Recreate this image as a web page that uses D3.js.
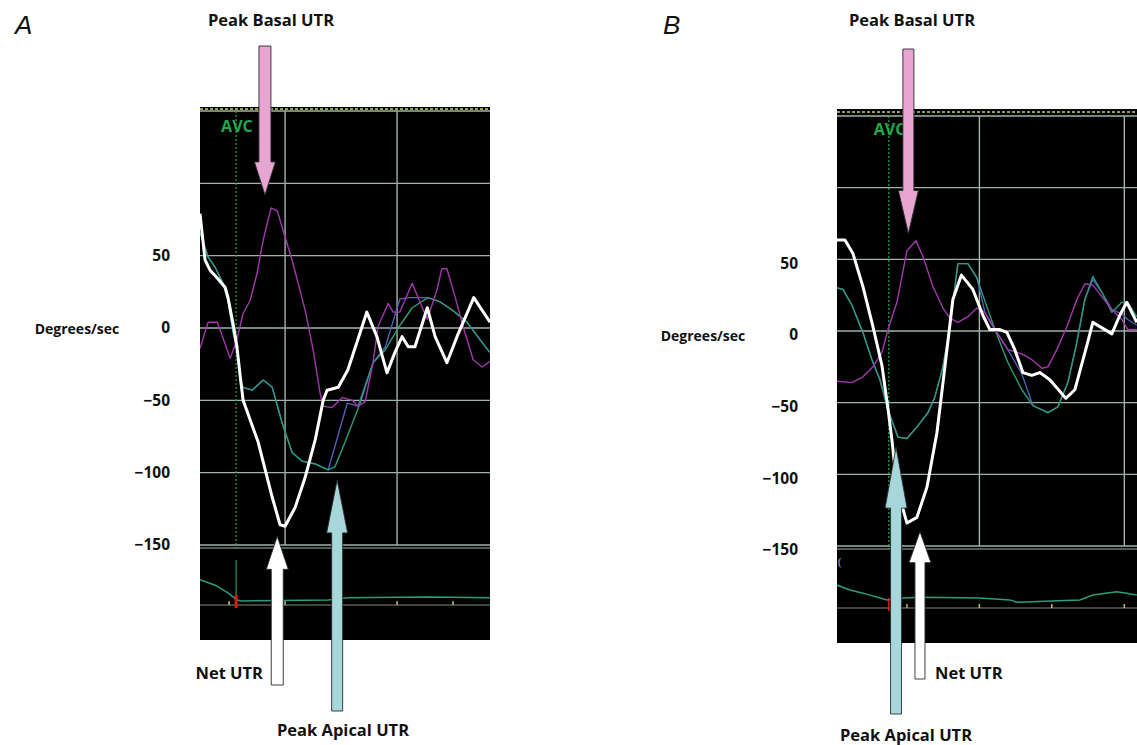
<!DOCTYPE html>
<html>
<head>
<meta charset="utf-8">
<script src="https://cdn.jsdelivr.net/npm/d3@7"></script>
<style>
  body { margin: 0; background: #fff; }
  text { font-family: "Open Sans", Lato, sans-serif; }
</style>
</head>
<body>
<svg id="fig" width="1137" height="745"></svg>
<script>
// ---------- data (time in ms, velocity in degrees/sec) ----------
var yTicks = [50, 0, -50, -100, -150];
var gridValues = [150, 100, 50, 0, -50, -100, -150];
var gridTimes = [200, 400];
var stripTicksA = [100, 200, 300, 400, 500];
var stripTicksB = [100, 200, 300, 400];
var avcA = 112.5;
var avcB = 75;

// Panel A
var netA_t = [48, 57, 66, 80, 93, 98, 107, 114, 120, 125, 152, 177, 191, 200, 218, 236, 254, 268, 275, 295, 312, 330, 346, 364, 382, 396, 409, 420, 432, 454, 468, 489, 507, 537, 566];
var netA_v = [79, 47, 40, 34, 28, 21, 3, -13, -34, -50, -79, -117, -136, -137, -124, -103, -77, -50, -43, -41, -29, -8, 11, -6, -31, -17, -6, -13, -13, 14, -6, -24, -6, 21, 4];
var basalA_t = [48, 62.5, 79, 102, 114, 125, 137.5, 150, 161, 175, 186, 196, 212.5, 236, 250, 262.5, 268, 284, 302, 320, 330, 343, 357, 366, 384, 393, 405, 427, 437.5, 454, 471, 480, 489, 504, 518, 536, 552, 566];
var basalA_v = [-14, 4, 4, -21, -8, 10, 19, 38, 61, 83, 81, 68, 47, 12, -15, -45, -54, -55, -48, -50, -54, -51, -24, 1, 17, 11, 11, 31, 21, 6, 26, 41, 41, 21, 1, -22, -27, -23];
var apicalA_t = [48, 62.5, 75, 89, 98, 107, 114, 120, 125, 141, 161, 177, 195, 212.5, 230, 254, 277, 289, 307, 334, 357, 379, 402, 427, 455, 477, 500, 525, 548, 566];
var apicalA_v = [66, 49, 42, 31, 19, -3, -15, -36, -41, -43, -36, -41, -66, -86, -92, -94, -98, -96, -79, -52, -24, -15, 0, 14, 21, 18, 12, 4, -8, -17];
var midA_t = [48, 62.5, 75, 89, 98, 107, 114, 120, 125, 141, 161, 177, 195, 212.5, 230, 254, 277, 311, 330, 357, 379, 405, 420, 437, 455, 477, 500, 525, 548, 566];
var midA_v = [66, 49, 42, 31, 19, -3, -15, -36, -41, -43, -36, -41, -66, -86, -92, -94, -98, -52, -54, -24, -13, 20, 21, 21, 21, 18, 12, 4, -8, -17];
var ecgA_t = [48, 75, 98, 114, 123, 277, 311, 455, 566];
var ecgA_v = [0.56, 0.44, 0.27, 0.11, 0.09, 0.11, 0.16, 0.18, 0.16];

// Panel B
var netB_t = [3.4, 14.5, 25.5, 39.3, 53.1, 65.5, 73.8, 79.3, 86.2, 100, 113.8, 127.6, 141.4, 152.4, 163.4, 175.2, 191, 204.8, 214.5, 228.3, 237.9, 248.9, 260, 272.4, 283.4, 297.2, 319.3, 331.7, 348.3, 356.6, 382.8, 393.8, 403.4, 417.2];
var netB_v = [63.5, 63.5, 54, 31, 3, -24, -54, -76, -109, -134, -130, -109, -71, -25, 22, 39, 29, 11, 1, 1, -1, -13, -29, -31, -29, -34, -47, -41, -10, 6, -2, 11, 20, 6];
var basalB_t = [3.4, 24.1, 39.3, 53.1, 65.5, 73.8, 86.2, 100, 112.4, 122.1, 135.9, 149.7, 159.3, 170.3, 184.1, 196.6, 207.6, 221.4, 239.3, 258.6, 272.4, 286.2, 294.5, 306.9, 320.7, 334.5, 345.5, 356.6, 369, 382.8, 396.6, 404.8, 417.2];
var basalB_v = [-35, -36, -32, -25, -15, 1, 20, 56, 63, 52, 31, 16, 9, 6, 10, 16, 13, 1, -13, -16, -20, -26, -25, -13, 3, 22, 33, 32, 24, 15, 8, 1, 1];
var apicalB_t = [3.4, 11.7, 24.1, 39.3, 51.7, 62.8, 73.8, 87.6, 100, 115.2, 129, 138.6, 149.7, 159.3, 170.3, 184.1, 196.6, 210.3, 221.4, 239.3, 258.6, 273.8, 294.5, 308.3, 322.1, 334.5, 345.5, 356.6, 369, 382.8, 396.6, 404.8, 417.2];
var apicalB_v = [30, 29, 18, -1, -20, -34, -55, -74, -75, -66, -57, -46, -25, 3, 47, 47, 37, 17, 1, -22, -41, -52, -57, -53, -36, -8, 22, 38, 27, 13, 20, 20, 10];
var midB_t = [3.4, 11.7, 24.1, 39.3, 51.7, 62.8, 73.8, 87.6, 100, 115.2, 129, 138.6, 149.7, 159.3, 170.3, 184.1, 196.6, 207.6, 221.4, 239.3, 258.6, 273.8, 294.5, 308.3, 322.1, 334.5, 345.5, 356.6, 369, 382.8, 396.6, 404.8, 417.2];
var midB_v = [30, 29, 18, -1, -20, -34, -55, -74, -75, -66, -57, -46, -25, 3, 47, 47, 37, 13, 1, -13, -30, -52, -57, -53, -36, -8, 22, 36, 27, 15, 12, 8, 4];
var ecgB_t = [3.4, 21.4, 39.3, 72.4, 94.5, 122, 200.7, 242, 251.7, 338.6, 356.6, 389.7, 403.4, 417.2];
var ecgB_v = [0.51, 0.4, 0.33, 0.18, 0.22, 0.24, 0.22, 0.18, 0.13, 0.18, 0.29, 0.36, 0.33, 0.29];

// arrows: time and velocity the tip points at
var arrowsA = [
  {name: "Peak Basal UTR", t: 164, v: 92, dir: "down"},
  {name: "Net UTR", t: 186, v: -144, dir: "up"},
  {name: "Peak Apical UTR", t: 293, v: -105, dir: "up"}
];
var arrowsB = [
  {name: "Peak Basal UTR", t: 102, v: 68, dir: "down"},
  {name: "Peak Apical UTR", t: 85, v: -81, dir: "up"},
  {name: "Net UTR", t: 118, v: -140, dir: "up"}
];

function zip(t, v) { return t.map(function(d, i) { return {t: d, v: v[i]}; }); }

var colors = {
  net: "#ffffff", basal: "#a238ad", apical: "#2b9b7c", mid: "#5563c4",
  grid: "#9fb3a8", avc: "#22a84a",
  pink: "#e6a6d1", teal: "#a7d7db", white: "#ffffff"
};

var svg = d3.select("#fig");

function drawPanel(p) {
  var x = d3.scaleLinear().domain([p.tStart, p.tEnd]).range([p.left, p.right]);
  var y = d3.scaleLinear().domain([-150, 150]).range([p.yBottom, p.yTop]);
  var e = d3.scaleLinear().domain([0, 1]).range([p.baseY, p.baseY - 45]);

  var g = svg.append("g");
  var clipId = "clip" + p.key;
  svg.append("clipPath").attr("id", clipId)
    .append("rect").attr("x", p.left).attr("y", p.top)
    .attr("width", p.right - p.left).attr("height", p.bottom - p.top);

  g.append("rect")
    .attr("x", p.left).attr("y", p.top)
    .attr("width", p.right - p.left).attr("height", p.bottom - p.top)
    .attr("fill", "#000");

  // dashed yellow top line
  g.append("line")
    .attr("x1", p.left).attr("x2", p.right)
    .attr("y1", p.dashY).attr("y2", p.dashY)
    .attr("stroke", "#c9d25a").attr("stroke-width", 1.4)
    .attr("stroke-dasharray", "3,2");

  // grid
  g.selectAll(".hgrid").data(gridValues).enter().append("line")
    .attr("x1", p.left).attr("x2", p.right)
    .attr("y1", function(d) { return y(d); }).attr("y2", function(d) { return y(d); })
    .attr("stroke", colors.grid).attr("stroke-width", 1.4);
  g.selectAll(".vgrid").data(gridTimes).enter().append("line")
    .attr("x1", function(d) { return x(d); }).attr("x2", function(d) { return x(d); })
    .attr("y1", p.yTop).attr("y2", p.yBottom)
    .attr("stroke", colors.grid).attr("stroke-width", 1.4);

  // strip separator and baseline
  g.append("line")
    .attr("x1", p.left).attr("x2", p.right)
    .attr("y1", p.stripTop).attr("y2", p.stripTop)
    .attr("stroke", colors.grid).attr("stroke-width", 1.2);
  g.append("line")
    .attr("x1", p.left).attr("x2", p.right)
    .attr("y1", p.baseY).attr("y2", p.baseY)
    .attr("stroke", "#7f8d74").attr("stroke-width", 1);
  g.selectAll(".stick").data(p.stripTicks).enter().append("line")
    .attr("x1", function(d) { return x(d); }).attr("x2", function(d) { return x(d); })
    .attr("y1", p.baseY - 4).attr("y2", p.baseY)
    .attr("stroke", "#c8b866").attr("stroke-width", 1.5);

  // AVC marker
  g.append("line")
    .attr("x1", x(p.avc)).attr("x2", x(p.avc))
    .attr("y1", p.yTop).attr("y2", p.stripTop)
    .attr("stroke", colors.avc).attr("stroke-width", 1.2)
    .attr("stroke-dasharray", "2,2");
  g.append("text")
    .attr("x", x(p.avc) - 15).attr("y", p.avcLabelY)
    .attr("fill", colors.avc).attr("font-size", 16).attr("font-weight", 700)
    .attr("dominant-baseline", "central")
    .text("AVC");

  var line = d3.line().x(function(d) { return x(d.t); }).y(function(d) { return y(d.v); });
  var lineE = d3.line().x(function(d) { return x(d.t); }).y(function(d) { return e(d.v); });

  var curves = g.append("g").attr("clip-path", "url(#" + clipId + ")");

  // ECG strip
  if (p.showGreenMark) {
    curves.append("line")
      .attr("x1", x(p.avc)).attr("x2", x(p.avc))
      .attr("y1", p.stripTop + 12).attr("y2", p.baseY - 5)
      .attr("stroke", "#1e9e3c").attr("stroke-width", 1.2);
  }
  curves.append("path").datum(p.ecg)
    .attr("fill", "none").attr("stroke", "#2a9e7e").attr("stroke-width", 1.5)
    .attr("d", lineE);
  curves.append("line")
    .attr("x1", x(p.avc)).attr("x2", x(p.avc))
    .attr("y1", p.baseY - 10).attr("y2", p.baseY + 3)
    .attr("stroke", "#e01818").attr("stroke-width", p.redWidth);

  [
    {data: p.mid, c: colors.mid, w: 1.3},
    {data: p.apical, c: colors.apical, w: 1.4},
    {data: p.basal, c: colors.basal, w: 1.4},
    {data: p.net, c: colors.net, w: 3}
  ].forEach(function(s) {
    curves.append("path").datum(s.data)
      .attr("fill", "none").attr("stroke", s.c).attr("stroke-width", s.w)
      .attr("stroke-linejoin", "round")
      .attr("d", line);
  });

  // y axis labels
  var ax = svg.append("g")
    .attr("transform", "translate(" + p.axisX + "," + p.axisDy + ")")
    .call(d3.axisLeft(y).tickValues(yTicks).tickSize(0).tickPadding(0));
  ax.select(".domain").remove();
  ax.selectAll("text")
    .attr("fill", "#111").attr("font-size", 15.5).attr("font-weight", 700)
    .style("font-family", "'Open Sans', Lato, sans-serif");

  svg.append("text")
    .attr("x", p.unitX).attr("y", y(0) + p.axisDy)
    .attr("text-anchor", "middle").attr("dominant-baseline", "central")
    .attr("font-size", 14).attr("font-weight", 700).attr("fill", "#111")
    .text("Degrees/sec");

  svg.append("text")
    .attr("x", p.letterX).attr("y", 34)
    .attr("font-size", 26).attr("font-style", "italic")
    .attr("fill", "#111").style("font-family", "'Liberation Sans', Arial, sans-serif")
    .text(p.letter);

  // arrows + labels
  p.arrows.forEach(function(a, i) {
    var L = p.arrowLayout[i];
    var cx = x(a.t), ty = y(a.v);
    var s = L.shaft, h = L.head, hl = L.headLen, tail = L.tail;
    var dir = a.dir === "down" ? -1 : 1;
    var hb = ty + dir * hl;
    var pts = [
      [cx, ty], [cx + h, hb], [cx + s, hb], [cx + s, tail],
      [cx - s, tail], [cx - s, hb], [cx - h, hb]
    ];
    svg.append("path")
      .attr("d", "M" + pts.map(function(q) { return q.join(","); }).join("L") + "Z")
      .attr("fill", L.fill).attr("stroke", "#2b2b2b").attr("stroke-width", 0.9);
    svg.append("text")
      .attr("x", L.lx).attr("y", L.ly)
      .attr("text-anchor", L.anchor).attr("dominant-baseline", "central")
      .attr("font-size", 16.5).attr("font-weight", 700).attr("fill", "#111")
      .text(a.name);
  });
}

drawPanel({
  key: "A", letter: "A", letterX: 15,
  left: 200, right: 490, top: 107, bottom: 640,
  dashY: 109, yTop: 111, yBottom: 545, stripTop: 548, baseY: 605,
  tStart: 48, tEnd: 566, avc: avcA, avcLabelY: 126, stripTicks: stripTicksA,
  showGreenMark: true, redWidth: 3,
  axisX: 170, axisDy: 0, unitX: 77,
  net: zip(netA_t, netA_v), basal: zip(basalA_t, basalA_v),
  apical: zip(apicalA_t, apicalA_v), mid: zip(midA_t, midA_v), ecg: zip(ecgA_t, ecgA_v),
  arrows: arrowsA,
  arrowLayout: [
    {shaft: 6, head: 10.5, headLen: 33, tail: 46, fill: colors.pink, lx: 271, ly: 19, anchor: "middle"},
    {shaft: 6, head: 11, headLen: 33, tail: 685, fill: colors.white, lx: 263, ly: 672, anchor: "end"},
    {shaft: 5.5, head: 10.5, headLen: 53, tail: 711, fill: colors.teal, lx: 343, ly: 729, anchor: "middle"}
  ]
});

drawPanel({
  key: "B", letter: "B", letterX: 663,
  left: 837, right: 1137, top: 109, bottom: 643,
  dashY: 112, yTop: 116, yBottom: 546, stripTop: 549, baseY: 608,
  tStart: 3.5, tEnd: 417.5, avc: avcB, avcLabelY: 129, stripTicks: stripTicksB,
  showGreenMark: false, redWidth: 1.5,
  axisX: 798, axisDy: 4, unitX: 703,
  net: zip(netB_t, netB_v), basal: zip(basalB_t, basalB_v),
  apical: zip(apicalB_t, apicalB_v), mid: zip(midB_t, midB_v), ecg: zip(ecgB_t, ecgB_v),
  arrows: arrowsB,
  arrowLayout: [
    {shaft: 5.5, head: 10, headLen: 43, tail: 49, fill: colors.pink, lx: 912, ly: 19, anchor: "middle"},
    {shaft: 5.5, head: 11, headLen: 61, tail: 714, fill: colors.teal, lx: 906, ly: 734, anchor: "middle"},
    {shaft: 5, head: 11, headLen: 31, tail: 679, fill: colors.white, lx: 935, ly: 672, anchor: "start"}
  ]
});

// small bracket mark at the top-left of panel B strip
svg.append("text").attr("x", 838).attr("y", 566)
  .attr("font-size", 11).attr("fill", "#bbb").text("(");
</script>
</body>
</html>
